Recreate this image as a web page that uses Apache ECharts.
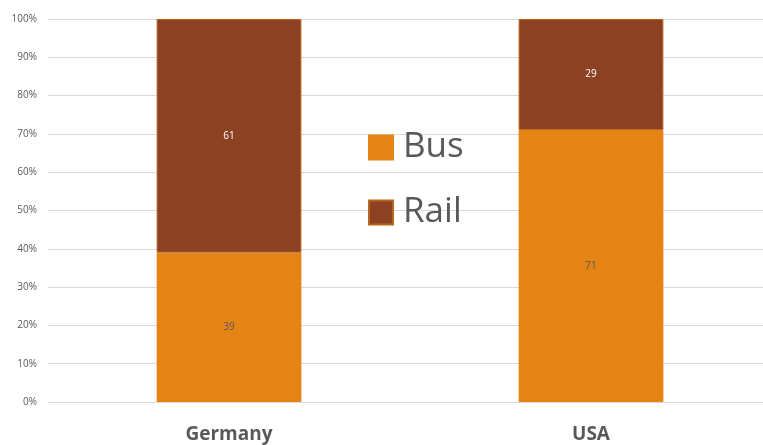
<!DOCTYPE html>
<html>
<head>
<meta charset="utf-8">
<script src="https://cdn.jsdelivr.net/npm/echarts@6/dist/echarts.min.js"></script>
<style>
  html, body { margin: 0; padding: 0; background: #fff; overflow: hidden; }
  #chart { width: 780px; height: 445px; }
</style>
</head>
<body>
<div id="chart"></div>
<script>
// Modal share by country (percent)
const countries = ['Germany', 'USA'];
const busShare = [39, 71];
const railShare = [61, 29];
const yTicks = [0, 10, 20, 30, 40, 50, 60, 70, 80, 90, 100];

const FONT = '"Open Sans", "Liberation Sans", sans-serif';
const GREY = '#595959';

const chart = echarts.init(document.getElementById('chart'));
chart.setOption({
  animation: false,
  textStyle: { fontFamily: FONT },
  grid: { left: 48, top: 19, width: 724, height: 383, containLabel: false },
  legend: {
    orient: 'vertical',
    left: 363,
    top: 125,
    itemWidth: 24,
    itemHeight: 24,
    itemGap: 30,
    icon: 'rect',
    textStyle: { fontSize: 35, color: GREY, fontFamily: FONT, padding: [0, 0, 0, 5] },
    data: ['Bus', 'Rail']
  },
  xAxis: {
    type: 'category',
    data: countries,
    axisLine: { show: true, lineStyle: { color: '#d9d9d9' } },
    axisTick: { show: false },
    axisLabel: { margin: 23, fontSize: 19, fontWeight: 'bold', color: GREY, fontFamily: FONT }
  },
  yAxis: {
    type: 'value',
    min: yTicks[0],
    max: yTicks[yTicks.length - 1],
    interval: 10,
    axisLine: { show: false },
    axisTick: { show: false },
    splitLine: { lineStyle: { color: '#d9d9d9' } },
    axisLabel: { formatter: '{value}%', fontSize: 10, color: GREY, margin: 11, fontFamily: FONT }
  },
  series: [
    {
      name: 'Bus',
      type: 'bar',
      stack: 'share',
      data: busShare,
      barWidth: '40%',
      itemStyle: { color: '#e58314', borderColor: '#e58314', borderWidth: 1 },
      label: { show: true, position: 'inside', fontSize: 10, color: GREY, fontFamily: FONT }
    },
    {
      name: 'Rail',
      type: 'bar',
      stack: 'share',
      data: railShare,
      barWidth: '40%',
      itemStyle: { color: '#8c4122', borderColor: '#b8661e', borderWidth: 1 },
      label: { show: true, position: 'inside', fontSize: 10, color: '#ffffff', fontFamily: FONT }
    }
  ]
});
</script>
</body>
</html>
